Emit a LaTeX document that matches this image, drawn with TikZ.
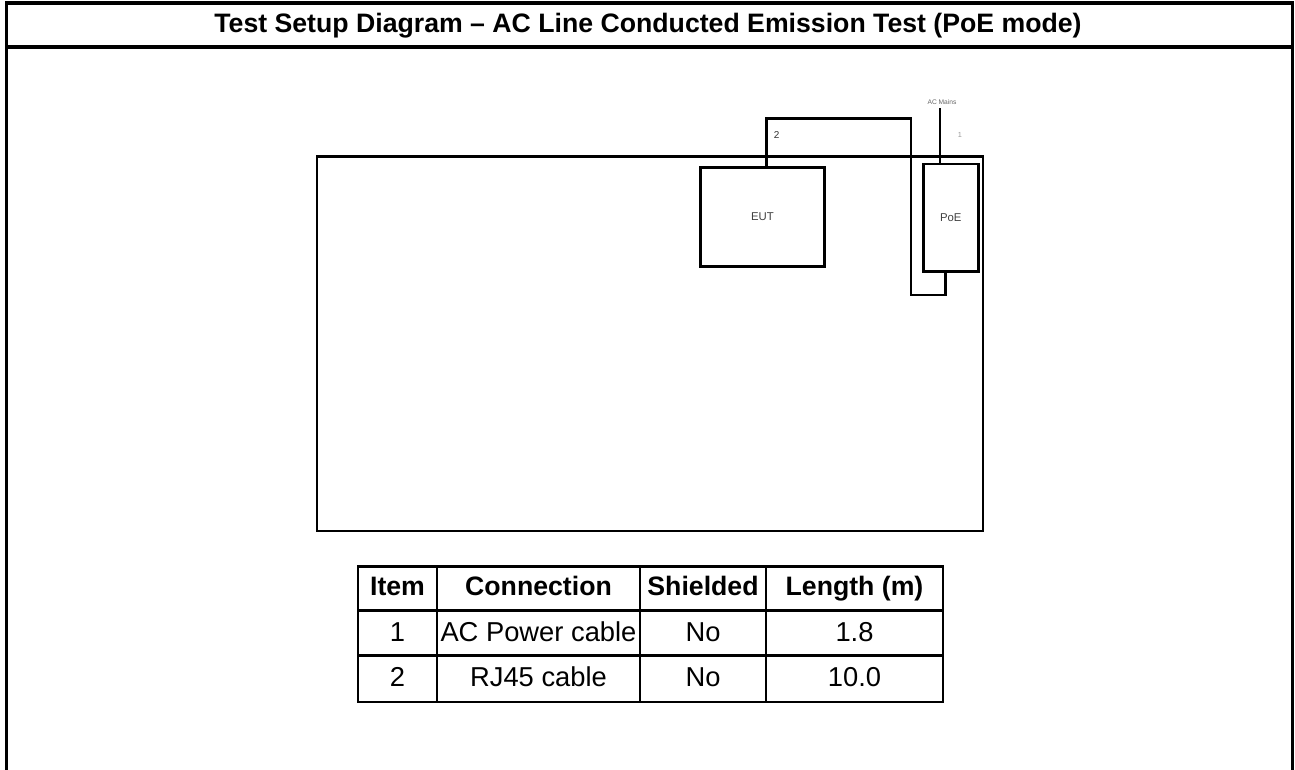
\documentclass[tikz,border=0pt]{standalone}
\usepackage{fontspec}
\setmainfont{Liberation Sans}

\tikzset{every picture/.style={line width=0.75pt}}
\tikzset{
  frameline/.style={line width=2.8pt},
  cable/.style={line width=2.2pt},
  unitbox/.style={draw, line width=2.2pt, inner sep=0pt, text=black!75, font=\fontsize{8.5}{10}\selectfont},
  gridline/.style={line width=2pt},
  cell/.style={inner sep=0pt, text height=1.3ex, text depth=0pt, font=\fontsize{20.5}{24}\selectfont},
  headcell/.style={cell, font=\bfseries\fontsize{20}{24}\selectfont},
}

\begin{document}
\begin{tikzpicture}[x=0.75pt,y=0.75pt,yscale=-1,xscale=1]
\useasboundingbox (0,0) rectangle (1295,770);

%Frame
\draw [frameline] (6.5,772) -- (6.5,3) -- (1292.5,3) -- (1292.5,772) ;
\draw [frameline] (6.5,47) -- (1292.5,47) ;
% Text Node
\node (title) [inner sep=0pt, text height=1.3ex, text depth=0pt, font=\bfseries\fontsize{20}{24}\selectfont] at (648,28) {Test Setup Diagram – AC Line Conducted Emission Test (PoE mode)};

%Ground plane
\draw [cable] (317,156.5) rectangle (983,531) ;

%Units
\node (EUT) [unitbox, minimum width=92.5pt, minimum height=74pt] at (762.4,216.7) {EUT};
\node (PoE) [unitbox, minimum width=41.25pt, minimum height=80.8pt] at (950.8,217.9) {PoE};

%Cable 2 (RJ45)
\coordinate (c2a) at (766.7,118.3);
\coordinate (c2b) at (911,295);
\coordinate (c2c) at (945.7,295);
\draw [cable] (c2a |- EUT.north) -- (c2a) -| (c2b) -- (c2c) -- (c2c |- PoE.south) ;
% Text Node
\node (lbl2) [inner sep=0pt, text=black!80, font=\fontsize{7.5}{9}\selectfont] at (776.7,135) {2};

%Cable 1 (AC)
\coordinate (acm) at (940,108);
\draw [cable] (acm |- PoE.north) -- (acm) ;
% Text Node
\node (lblac) [inner sep=0pt, anchor=south, text=black!60, font=\fontsize{5}{6}\selectfont] at (942,105) {AC Mains};
% Text Node
\node (lbl1) [inner sep=0pt, text=black!40, font=\fontsize{5.5}{6}\selectfont] at (960,135) {1};

%Cable table
\draw [gridline] (358,566.5) rectangle (943,702) ;
\foreach \y in {610.5,655.5}
  \draw [gridline] (358,\y) -- (943,\y) ;
\foreach \x in {437,640,766}
  \draw [gridline] (\x,566.5) -- (\x,702) ;

% Text Node
\node (hItem) [headcell] at (397.5,591) {Item};
\node (hConn) [headcell] at (538.5,591) {Connection};
\node (hShield) [headcell] at (703,591) {Shielded};
\node (hLength) [headcell] at (854.5,591) {Length (m)};

\node (item1) [cell] at (397.5,636.5) {1};
\node (conn1) [cell] at (538.5,636.5) {AC Power cable};
\node (shield1) [cell] at (703,636.5) {No};
\node (length1) [cell] at (854.5,636.5) {1.8};

\node (item2) [cell] at (397.5,682) {2};
\node (conn2) [cell] at (538.5,682) {RJ45 cable};
\node (shield2) [cell] at (703,682) {No};
\node (length2) [cell] at (854.5,682) {10.0};

\end{tikzpicture}
\end{document}
